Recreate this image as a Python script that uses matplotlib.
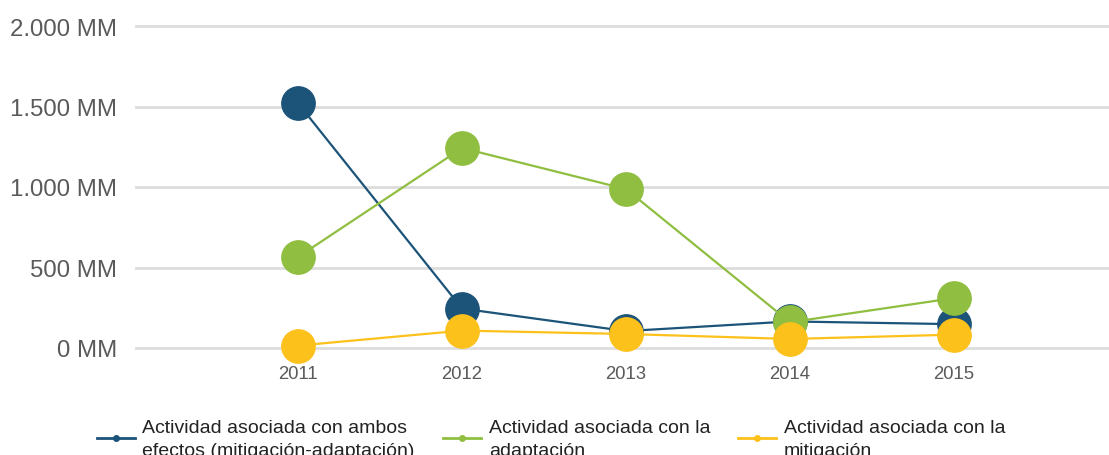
import matplotlib.pyplot as plt
from matplotlib.ticker import FuncFormatter

plt.rcParams["font.family"] = ["Liberation Sans", "DejaVu Sans"]

years = [2011, 2012, 2013, 2014, 2015]
ambos = [1520, 245, 105, 165, 148]
adaptacion = [565, 1242, 987, 160, 310]
mitigacion = [15, 108, 87, 56, 83]

labels = [
    "Actividad asociada con ambos\nefectos (mitigación-adaptación)",
    "Actividad asociada con la\nadaptación",
    "Actividad asociada con la\nmitigación",
]
colors = ["#1c5378", "#8fbe40", "#fdc11c"]
y_ticks = [0, 500, 1000, 1500, 2000]

fig = plt.figure(figsize=(11.09, 4.56), dpi=100)
ax = fig.add_axes([136 / 1109, 107 / 456, 973 / 1109, 322 / 456])

handles = []
for vals, col, lab in zip([ambos, adaptacion, mitigacion], colors, labels):
    ax.plot(years, vals, color=col, lw=1.6, marker="o", ms=24,
            mec=col, mfc=col, clip_on=False, zorder=3)
    # small legend handle
    h, = ax.plot([], [], color=col, lw=2, marker="o", ms=4, label=lab)
    handles.append(h)

ax.set_xlim(2010.012, 2015.945)
ax.set_ylim(0, 2000)
ax.set_yticks(y_ticks)
ax.yaxis.set_major_formatter(FuncFormatter(lambda v, p: f"{int(v):,} MM".replace(",", ".")))
ax.set_xticks(years)

ax.grid(axis="y", color="#dddddd", lw=2, zorder=0)
for gl in ax.get_ygridlines():
    gl.set_clip_on(False)
ax.set_axisbelow(True)
for s in ax.spines.values():
    s.set_visible(False)
ax.tick_params(axis="y", length=0, pad=13.5, labelsize=17.3, labelcolor="#5a5a5a")
ax.tick_params(axis="x", length=0, pad=12, labelsize=13.3, labelcolor="#5a5a5a")

leg = fig.legend(handles=handles, loc="upper left", bbox_to_anchor=(87 / 1109, 1 - 410 / 456),
                 ncol=3, frameon=False, fontsize=14, handlelength=1.95,
                 handletextpad=0.4, columnspacing=1.45, borderpad=0, labelspacing=0)
for t in leg.get_texts():
    t.set_color("#222222")
    t.set_linespacing(1.45)

fig.savefig("out.png", dpi=100)
